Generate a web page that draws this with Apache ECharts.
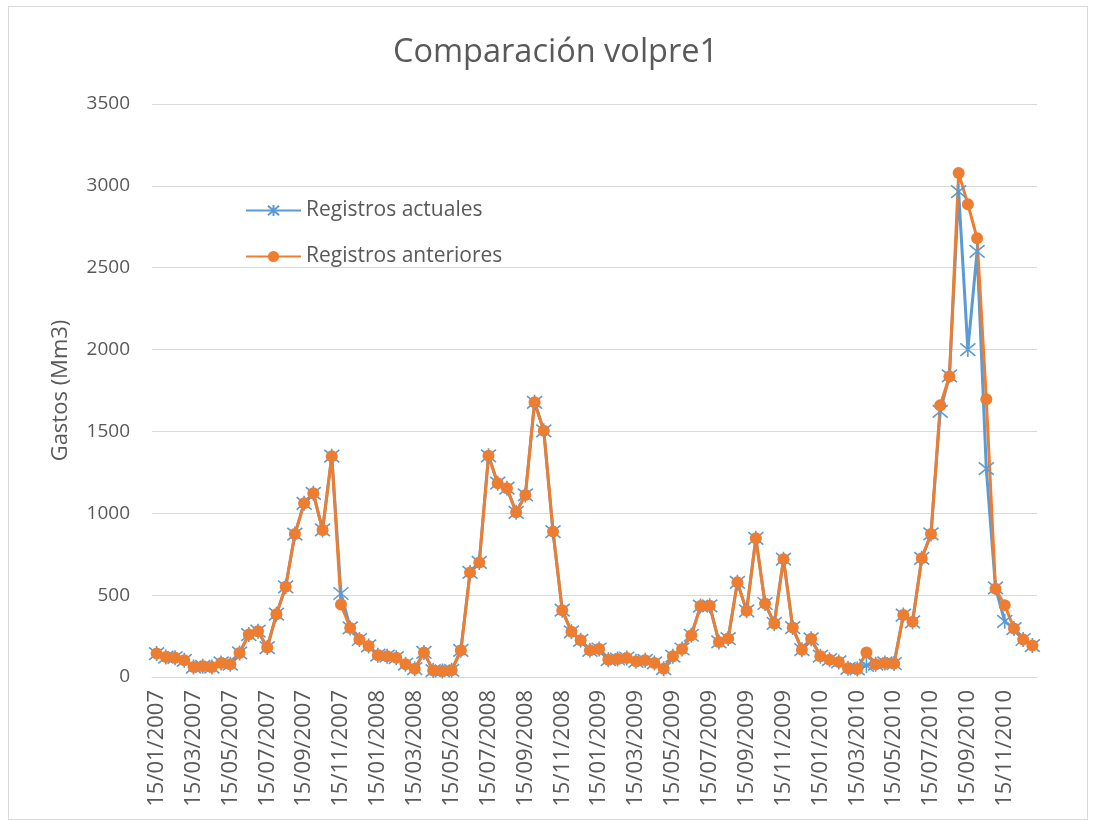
<!DOCTYPE html>
<html>
<head>
<meta charset="utf-8">
<script src="https://cdn.jsdelivr.net/npm/echarts@6/dist/echarts.min.js"></script>
<style>
  html, body { margin: 0; padding: 0; background: #fff; }
  #chart { position: absolute; left: 0; top: 0; width: 1093px; height: 822px; }
  #frame { position: absolute; left: 8px; top: 6px; width: 1078px; height: 812px;
           border: 1px solid #d9d9d9; pointer-events: none; }
</style>
</head>
<body>
<div id="chart"></div>
<div id="frame"></div>
<script>
// DATA
var fechas = [
  '15/01/2007','31/01/2007','15/02/2007','28/02/2007','15/03/2007','31/03/2007','15/04/2007','30/04/2007',
  '15/05/2007','31/05/2007','15/06/2007','30/06/2007','15/07/2007','31/07/2007','15/08/2007','31/08/2007',
  '15/09/2007','30/09/2007','15/10/2007','31/10/2007','15/11/2007','30/11/2007','15/12/2007','31/12/2007',
  '15/01/2008','31/01/2008','15/02/2008','29/02/2008','15/03/2008','31/03/2008','15/04/2008','30/04/2008',
  '15/05/2008','31/05/2008','15/06/2008','30/06/2008','15/07/2008','31/07/2008','15/08/2008','31/08/2008',
  '15/09/2008','30/09/2008','15/10/2008','31/10/2008','15/11/2008','30/11/2008','15/12/2008','31/12/2008',
  '15/01/2009','31/01/2009','15/02/2009','28/02/2009','15/03/2009','31/03/2009','15/04/2009','30/04/2009',
  '15/05/2009','31/05/2009','15/06/2009','30/06/2009','15/07/2009','31/07/2009','15/08/2009','31/08/2009',
  '15/09/2009','30/09/2009','15/10/2009','31/10/2009','15/11/2009','30/11/2009','15/12/2009','31/12/2009',
  '15/01/2010','31/01/2010','15/02/2010','28/02/2010','15/03/2010','31/03/2010','15/04/2010','30/04/2010',
  '15/05/2010','31/05/2010','15/06/2010','30/06/2010','15/07/2010','31/07/2010','15/08/2010','31/08/2010',
  '15/09/2010','30/09/2010','15/10/2010','31/10/2010','15/11/2010','30/11/2010','15/12/2010','31/12/2010'
]
var registrosActuales = [
  143,122,118,102,61,65,61,86,78,147,259,280,180,384,551,873,1061,1122,898,1349,
  510,300,229,190,133,127,118,78,51,150,39,37,41,163,639,700,1351,1184,1153,1006,
  1112,1678,1504,888,408,276,224,163,171,106,110,116,96,102,86,51,127,171,255,433,
  435,214,235,578,404,847,449,327,720,302,167,233,127,106,92,53,49,71,78,86,
  82,378,337,725,874,1622,1840,2965,2000,2600,1273,545,340,296,229,192
]
var registrosAnteriores = [
  143,122,118,102,61,65,61,86,78,147,259,280,180,384,551,873,1061,1122,898,1349,
  443,300,229,190,133,127,118,78,51,150,39,37,41,163,639,700,1351,1184,1153,1006,
  1112,1678,1504,888,408,276,224,163,171,106,110,116,96,102,86,51,127,171,255,433,
  435,214,235,578,404,847,449,327,720,302,167,233,127,106,92,53,49,149,78,86,
  82,378,337,725,874,1660,1836,3078,2888,2680,1697,539,439,296,229,192
]

var textColor = '#595959'
var font = 'Open Sans'
var asterisk = 'path://M0,0L10,10M10,0L0,10M5,-1L5,11'

var chart = echarts.init(document.getElementById('chart'))
chart.setOption({
  animation: false,
  title: {
    text: 'Comparación volpre1',
    left: 393,
    top: 36,
    padding: 0,
    textStyle: { color: textColor, fontFamily: font, fontSize: 32.5, fontWeight: 'normal' }
  },
  legend: {
    orient: 'vertical',
    left: 245,
    top: 200,
    padding: 0,
    itemWidth: 55,
    itemHeight: 14,
    itemGap: 25,
    textStyle: { color: textColor, fontFamily: font, fontSize: 21, lineHeight: 21 },
    data: ['Registros actuales', 'Registros anteriores']
  },
  grid: { left: 152, right: 56, top: 104, bottom: 145 },
  xAxis: {
    type: 'category',
    data: fechas,
    boundaryGap: true,
    axisLine: { lineStyle: { color: '#d9d9d9', width: 1 } },
    axisTick: { show: false },
    axisLabel: {
      interval: 3,
      rotate: 90,
      margin: 13,
      color: textColor,
      fontFamily: font,
      fontSize: 22
    }
  },
  yAxis: {
    type: 'value',
    min: 0,
    max: 3500,
    interval: 500,
    name: 'Gastos (Mm3)',
    nameLocation: 'middle',
    nameGap: 80,
    nameTextStyle: { color: textColor, fontFamily: font, fontSize: 22 },
    axisLine: { show: false },
    axisTick: { show: false },
    splitLine: { lineStyle: { color: '#d9d9d9', width: 1 } },
    axisLabel: {
      color: textColor, fontFamily: font, fontSize: 19, margin: 22,
      formatter: function (v) { return String(v) }
    }
  },
  series: [
    {
      name: 'Registros actuales',
      type: 'line',
      data: registrosActuales,
      symbol: asterisk,
      symbolSize: 15,
      showAllSymbol: true,
      lineStyle: { color: '#5B9BD5', width: 3 },
      itemStyle: { color: '#5B9BD5', borderColor: '#5B9BD5', borderWidth: 1.6 }
    },
    {
      name: 'Registros anteriores',
      type: 'line',
      data: registrosAnteriores,
      symbol: 'circle',
      symbolSize: 12,
      showAllSymbol: true,
      lineStyle: { color: '#ED7D31', width: 3 },
      itemStyle: { color: '#ED7D31', borderWidth: 0 }
    }
  ]
})
</script>
</body>
</html>
